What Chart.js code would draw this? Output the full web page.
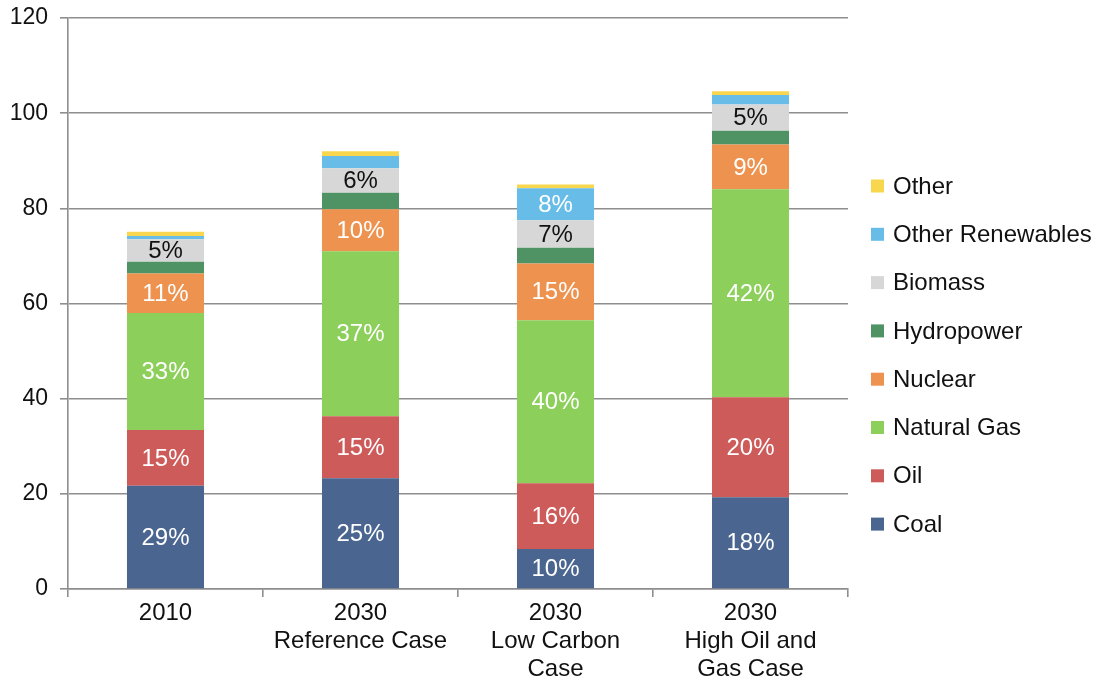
<!DOCTYPE html>
<html>
<head>
<meta charset="utf-8">
<script src="https://cdn.jsdelivr.net/npm/chart.js@4.4.1/dist/chart.umd.min.js"></script>
<style>
  html, body { margin: 0; padding: 0; background: #fff; }
  #wrap { width: 1094px; height: 679px; position: relative; }
</style>
</head>
<body>
<div id="wrap"><canvas id="c"></canvas></div>
<script>
const categories = ["2010", ["2030", "Reference Case"], ["2030", "Low Carbon", "Case"], ["2030", "High Oil and", "Gas Case"]];
const yTicks = [0, 20, 40, 60, 80, 100, 120];

const coal      = [21.7, 23.3, 8.4, 19.3];
const oil       = [11.7, 13.0, 13.8, 21.0];
const naturalGas= [24.6, 34.7, 34.3, 43.7];
const nuclear   = [8.3, 8.8, 11.9, 9.4];
const hydropower= [2.5, 3.5, 3.3, 2.9];
const biomass   = [4.7, 5.1, 5.8, 5.5];
const otherRenewables = [0.7, 2.6, 6.7, 2.0];
const other     = [0.9, 1.0, 0.8, 0.8];

const coalLabels    = ["29%", "25%", "10%", "18%"];
const oilLabels     = ["15%", "15%", "16%", "20%"];
const gasLabels     = ["33%", "37%", "40%", "42%"];
const nuclearLabels = ["11%", "10%", "15%", "9%"];
const hydroLabels   = ["", "", "", ""];
const biomassLabels = ["5%", "6%", "7%", "5%"];
const otherRenLabels= ["", "", "8%", ""];
const otherLabels   = ["", "", "", ""];

const FONT = "'Liberation Sans', Arial, Helvetica, sans-serif";

function ds(label, data, color, pct, txtColor) {
  return { label, data, backgroundColor: color, borderWidth: 0, pctLabels: pct, pctColor: txtColor,
           categoryPercentage: 1.0, barPercentage: 0.395 };
}

const datasets = [
  ds("Coal", coal, "#4a6690", coalLabels, "#ffffff"),
  ds("Oil", oil, "#cd5b5a", oilLabels, "#ffffff"),
  ds("Natural Gas", naturalGas, "#8dcf5b", gasLabels, "#ffffff"),
  ds("Nuclear", nuclear, "#ee924f", nuclearLabels, "#ffffff"),
  ds("Hydropower", hydropower, "#4f9364", hydroLabels, "#ffffff"),
  ds("Biomass", biomass, "#d7d7d7", biomassLabels, "#111111"),
  ds("Other Renewables", otherRenewables, "#68bce8", otherRenLabels, "#ffffff"),
  ds("Other", other, "#f8d74f", otherLabels, "#ffffff"),
];

const pctPlugin = {
  id: "pctPlugin",
  afterDatasetsDraw(chart) {
    const ctx = chart.ctx;
    ctx.save();
    ctx.font = "24px " + FONT;
    ctx.textAlign = "center";
    ctx.textBaseline = "middle";
    chart.data.datasets.forEach((d, i) => {
      const meta = chart.getDatasetMeta(i);
      meta.data.forEach((el, j) => {
        const t = d.pctLabels[j];
        if (!t) return;
        ctx.fillStyle = d.pctColor;
        ctx.fillText(t, el.x, (el.y + el.base) / 2 + 1);
      });
    });
    ctx.restore();
  }
};

const legendPlugin = {
  id: "sideLegend",
  afterDraw(chart) {
    const ctx = chart.ctx;
    const ca = chart.chartArea;
    ctx.save();
    ctx.font = "24px " + FONT;
    ctx.textAlign = "left";
    ctx.textBaseline = "middle";
    const items = chart.data.datasets.slice().reverse();
    const x0 = ca.right + 23;
    const y0 = ca.top + 168;
    const step = 48.3;
    items.forEach((d, k) => {
      const y = y0 + k * step;
      ctx.fillStyle = d.backgroundColor;
      ctx.fillRect(x0, y - 6.5, 13, 13);
      ctx.fillStyle = "#111111";
      ctx.fillText(d.label, x0 + 22, y + 1);
    });
    ctx.restore();
  }
};

new Chart(document.getElementById("c"), {
  type: "bar",
  data: { labels: categories, datasets },
  plugins: [pctPlugin, legendPlugin],
  options: {
    responsive: true,
    maintainAspectRatio: false,
    animation: false,
    devicePixelRatio: 1,
    layout: { padding: { top: 18, right: 246, left: 0, bottom: 0 } },
    plugins: { legend: { display: false }, tooltip: { enabled: false } },
    scales: {
      x: {
        stacked: true,
        offset: true,
        grid: { display: true, drawOnChartArea: false, drawTicks: true, tickLength: 8, offset: true, color: "#8e8e8e", lineWidth: 1.6 },
        border: { display: true, color: "#8e8e8e", width: 1.6 },
        ticks: { color: "#111111", font: { family: FONT, size: 24, lineHeight: 1.17 }, padding: 2, maxRotation: 0, autoSkip: false },
        afterFit(s) { s.height = 90; s.paddingLeft = 0; s.paddingRight = 0; }
      },
      y: {
        stacked: true,
        min: 0, max: 120,
        afterBuildTicks(s) { s.ticks = yTicks.map(v => ({ value: v })); },
        grid: { color: "#8e8e8e", lineWidth: 1.6, drawTicks: true, tickLength: 8 },
        border: { display: true, color: "#8e8e8e", width: 1.6 },
        ticks: { color: "#111111", font: { family: FONT, size: 23 }, padding: 12 },
        afterFit(s) { s.width = 68; s.paddingTop = 0; s.paddingBottom = 0; }
      }
    }
  }
});
</script>
</body>
</html>
